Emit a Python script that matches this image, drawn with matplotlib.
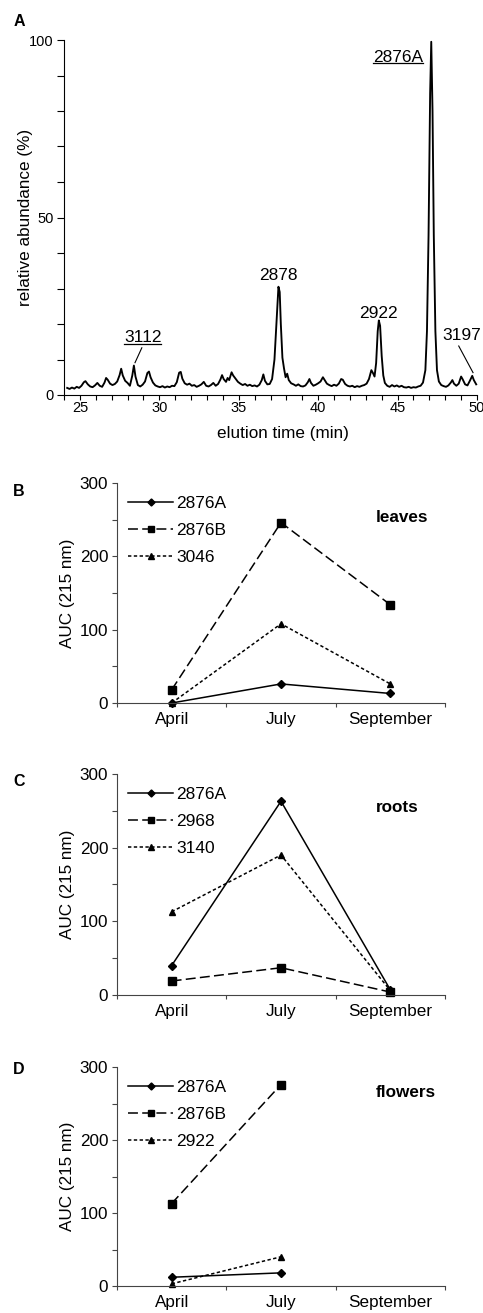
import matplotlib
matplotlib.use("Agg")
import matplotlib.pyplot as plt
from matplotlib.lines import Line2D
from matplotlib.transforms import IdentityTransform
from matplotlib.ticker import MultipleLocator, FixedLocator, NullFormatter

plt.rcParams['font.family'] = ['Liberation Sans', 'DejaVu Sans']

# ---------------- data ----------------
# Panel A: chromatogram trace (elution time, relative abundance)
elution_time = [
    24.20, 24.35, 24.50, 24.65, 24.80, 24.95, 25.10, 25.25, 25.35, 25.50,
    25.65, 25.80, 25.95, 26.10, 26.25, 26.40, 26.55, 26.65, 26.75, 26.90,
    27.05, 27.20, 27.35, 27.50, 27.60, 27.70, 27.85, 28.00, 28.15, 28.30,
    28.40, 28.50, 28.65, 28.80, 28.95, 29.10, 29.25, 29.35, 29.45, 29.60,
    29.75, 29.90, 30.05, 30.20, 30.35, 30.50, 30.65, 30.80, 30.95, 31.10,
    31.25, 31.35, 31.45, 31.60, 31.75, 31.90, 32.05, 32.20, 32.35, 32.50,
    32.65, 32.80, 32.95, 33.10, 33.25, 33.40, 33.55, 33.70, 33.85, 33.95,
    34.05, 34.20, 34.30, 34.40, 34.55, 34.65, 34.80, 34.95, 35.10, 35.25,
    35.40, 35.55, 35.70, 35.85, 36.00, 36.15, 36.30, 36.45, 36.55, 36.65,
    36.80, 36.95, 37.10, 37.25, 37.40, 37.50, 37.58, 37.65, 37.75, 37.85,
    37.95, 38.05, 38.15, 38.30, 38.45, 38.60, 38.75, 38.90, 39.05, 39.20,
    39.35, 39.45, 39.55, 39.70, 39.85, 40.00, 40.15, 40.30, 40.40, 40.55,
    40.70, 40.85, 41.00, 41.15, 41.30, 41.45, 41.55, 41.70, 41.85, 42.00,
    42.15, 42.30, 42.45, 42.60, 42.75, 42.90, 43.05, 43.20, 43.35, 43.45,
    43.55, 43.65, 43.75, 43.82, 43.90, 44.00, 44.10, 44.20, 44.35, 44.50,
    44.65, 44.80, 44.95, 45.10, 45.25, 45.40, 45.55, 45.70, 45.85, 46.00,
    46.15, 46.30, 46.45, 46.60, 46.75, 46.85, 46.95, 47.05, 47.12, 47.20,
    47.28, 47.38, 47.48, 47.60, 47.75, 47.90, 48.05, 48.20, 48.35, 48.45,
    48.55, 48.70, 48.85, 49.00, 49.10, 49.25, 49.40, 49.55, 49.70, 49.80,
    49.95,
]
abundance = [
    2.0, 1.7, 2.1, 1.8, 2.3, 2.0, 2.6, 3.6, 3.9, 3.0,
    2.4, 2.2, 2.7, 3.4, 2.6, 2.3, 3.5, 4.8, 4.3, 3.2,
    2.8, 3.1, 3.8, 5.6, 7.4, 5.5, 4.0, 3.4, 2.6, 5.5,
    8.3, 5.2, 2.8, 2.4, 2.9, 3.8, 6.2, 6.6, 5.0, 3.5,
    2.7, 2.4, 2.2, 2.5, 2.1, 2.4, 2.2, 2.6, 2.5, 3.6,
    6.3, 6.5, 4.6, 3.3, 2.9, 3.2, 2.6, 2.8, 2.3, 2.6,
    3.0, 3.7, 2.6, 2.4, 2.8, 3.4, 2.6, 3.1, 4.4, 5.6,
    4.5, 3.7, 4.8, 4.2, 6.4, 5.5, 4.6, 3.7, 3.2, 2.8,
    3.1, 2.6, 2.9, 2.5, 2.7, 2.4, 2.9, 4.2, 5.8, 4.0,
    3.0, 3.1, 4.5, 10.0, 22.0, 30.5, 29.0, 20.0, 10.5, 7.5,
    5.0, 6.0, 4.2, 3.3, 3.0, 2.6, 3.0, 2.5, 2.4, 2.7,
    3.6, 4.5, 3.4, 2.6, 2.9, 3.3, 3.8, 5.0, 4.3, 3.2,
    2.8, 2.5, 2.9, 2.6, 3.2, 4.5, 4.3, 3.1, 2.6, 2.4,
    2.6, 2.2, 2.5, 2.3, 2.6, 2.8, 3.2, 4.5, 7.0, 6.2,
    5.2, 9.0, 18.0, 21.0, 19.5, 11.0, 5.5, 3.4, 2.6, 2.3,
    2.8, 2.4, 2.7, 2.3, 2.6, 2.2, 2.1, 2.3, 2.0, 2.2,
    2.1, 2.4, 2.6, 3.5, 7.0, 18.0, 45.0, 85.0, 99.5, 80.0,
    45.0, 18.0, 7.0, 3.8, 2.8, 2.5, 2.3, 2.7, 3.5, 4.2,
    3.2, 2.6, 3.2, 5.2, 4.4, 3.0, 2.7, 4.0, 5.4, 4.2,
    3.0,
]

# Panels B-D: AUC (215 nm) per month
months = ["April", "July", "September"]

leaves_labels = ["2876A", "2876B", "3046"]
leaves_2876A = [0, 26, 13]
leaves_2876B = [18, 246, 134]
leaves_3046 = [0, 108, 26]

roots_labels = ["2876A", "2968", "3140"]
roots_2876A = [40, 263, 7]
roots_2968 = [19, 37, 4]
roots_3140 = [113, 190, 6]

flowers_labels = ["2876A", "2876B", "2922"]
flowers_2876A = [12, 18]
flowers_2876B = [113, 276]
flowers_2922 = [3, 40]

# ---------------- figure ----------------
W, H = 483, 1313
fig = plt.figure(figsize=(W / 100, H / 100), dpi=100)


def frac_axes(left, top, right, bottom):
    return fig.add_axes([left / W, 1 - bottom / H, (right - left) / W, (bottom - top) / H])


# ---- Panel A ----
axA = frac_axes(64, 40, 477, 395)
axA.plot(elution_time, abundance, color='black', lw=1.35, clip_on=False)
axA.set_xlim(24, 50)
axA.set_ylim(0, 100)
for s in ('top', 'right'):
    axA.spines[s].set_visible(False)
for s in ('left', 'bottom'):
    axA.spines[s].set_linewidth(0.8)
axA.xaxis.set_major_locator(MultipleLocator(5))
axA.xaxis.set_minor_locator(MultipleLocator(1))
axA.yaxis.set_major_locator(FixedLocator([0, 50, 100]))
axA.yaxis.set_minor_locator(MultipleLocator(10))
axA.tick_params(axis='x', which='both', direction='out', length=3.6, width=0.8, pad=0.8, labelsize=10.5)
axA.tick_params(axis='y', which='both', direction='out', length=5, width=0.8, pad=2.5, labelsize=10.5)
axA.set_xlabel("elution time (min)", fontsize=12.3)
axA.xaxis.set_label_coords((283 - 64) / 413, -(426 - 395) / 355)
axA.xaxis.label.set_va('top')
axA.set_ylabel("relative abundance (%)", fontsize=12.3)
axA.yaxis.set_label_coords(-(64 - 33) / 413, 0.5)

ann_fs = 12.5
tA1 = axA.text(45.03, 93.9, "2876A", ha='center', va='baseline', fontsize=ann_fs)
tA2 = axA.text(37.5, 32.4, "2878", ha='center', va='baseline', fontsize=ann_fs)
tA3 = axA.text(43.8, 21.6, "2922", ha='center', va='baseline', fontsize=ann_fs)
tA4 = axA.text(28.95, 15.0, "3112", ha='center', va='baseline', fontsize=ann_fs)
tA5 = axA.text(49.06, 15.5, "3197", ha='center', va='baseline', fontsize=ann_fs, clip_on=False)
axA.plot([28.9, 28.47], [13.3, 9.1], color='black', lw=0.8)
axA.plot([48.85, 49.75], [13.8, 6.3], color='black', lw=0.8, clip_on=False)

fig.text(19 / W, 1 - 22 / H, "A", fontsize=11.5, fontweight='bold', ha='center', va='center')

# ---- Panels B-D ----
line_styles = [
    dict(ls='-', marker='D', ms=4.2),
    dict(ls=(0, (6.5, 2.8)), marker='s', ms=5.5),
    dict(ls=(0, (2.2, 1.6)), marker='^', ms=5.0),
]


def panel(top, bottom, series, labels, tissue, tissue_xy, letter, letter_y):
    ax = frac_axes(117, top, 445, bottom)
    for vals, lab, st in zip(series, labels, line_styles):
        ax.plot(range(len(vals)), vals, color='black', lw=1.1, ls=st['ls'],
                marker=st['marker'], ms=st['ms'], mfc='black', mec='black',
                label=lab, clip_on=False)
    ax.set_xlim(-0.5, 2.5)
    ax.set_ylim(0, 300)
    for s in ('top', 'right'):
        ax.spines[s].set_visible(False)
    for s in ('left', 'bottom'):
        ax.spines[s].set_linewidth(0.8)
        ax.spines[s].set_color('#444444')
    ax.yaxis.set_major_locator(MultipleLocator(100))
    ax.yaxis.set_minor_locator(MultipleLocator(50))
    ax.xaxis.set_major_locator(FixedLocator([-0.5, 0.5, 1.5, 2.5]))
    ax.xaxis.set_major_formatter(NullFormatter())
    ax.xaxis.set_minor_locator(FixedLocator([0, 1, 2]))
    ax.set_xticklabels(months, minor=True)
    ax.tick_params(axis='x', which='major', direction='out', length=3, width=0.8, color='#444444')
    ax.tick_params(axis='x', which='minor', length=0, pad=6.5, labelsize=12.3)
    ax.tick_params(axis='y', which='both', direction='out', length=3.3, width=0.8, pad=3,
                   labelsize=12.3, color='#444444')
    ax.set_ylabel("AUC (215 nm)", fontsize=12.3)
    ax.yaxis.set_label_coords(-(117 - 75) / 328, 0.5)
    ax.legend(loc='upper left', bbox_to_anchor=(11 / 328, 0.94), frameon=False,
              fontsize=12.5, handlelength=2.6, handletextpad=0.2, labelspacing=0.68,
              borderpad=0, borderaxespad=0, markerscale=0.85)
    ax.text(tissue_xy[0], tissue_xy[1], tissue, transform=ax.transAxes, ha='center',
            va='baseline', fontsize=12.3, fontweight='bold')
    fig.text(19 / W, 1 - letter_y / H, letter, fontsize=11.5, fontweight='bold',
             ha='center', va='center')
    return ax


panel(483, 703, [leaves_2876A, leaves_2876B, leaves_3046], leaves_labels, "leaves",
      ((402 - 117) / 328, (703 - 522) / 220), "B", 491)
panel(774, 995, [roots_2876A, roots_2968, roots_3140], roots_labels, "roots",
      ((397 - 117) / 328, (995 - 812) / 221), "C", 781)
panel(1067, 1286, [flowers_2876A, flowers_2876B, flowers_2922], flowers_labels, "flowers",
      ((405.5 - 117) / 328, (1286 - 1097) / 219), "D", 1069)

# underline for 2876A and 3112 labels
fig.canvas.draw()
renderer = fig.canvas.get_renderer()
for t in (tA1, tA4):
    bb = t.get_window_extent(renderer)
    x, y = t.get_position()
    ybase = axA.transData.transform((x, y))[1]
    fig.add_artist(Line2D([bb.x0, bb.x1], [ybase - 1.8, ybase - 1.8], color='black',
                          lw=0.9, transform=IdentityTransform()))

fig.savefig("out.png", dpi=100)
